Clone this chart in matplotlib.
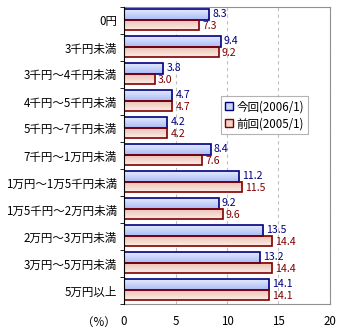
import numpy as np
import matplotlib
matplotlib.use('Agg')
import matplotlib.pyplot as plt
from matplotlib.patches import Rectangle

plt.rcParams['font.family'] = ['Noto Sans CJK JP', 'DejaVu Sans']

categories = ['0円', '3千円未満', '3千円～4千円未満', '4千円～5千円未満', '5千円～7千円未満',
              '7千円～1万円未満', '1万円～1万5千円未満', '1万5千円～2万円未満',
              '2万円～3万円未満', '3万円～5万円未満', '5万円以上']
current = [8.3, 9.4, 3.8, 4.7, 4.2, 8.4, 11.2, 9.2, 13.5, 13.2, 14.1]
previous = [7.3, 9.2, 3.0, 4.7, 4.2, 7.6, 11.5, 9.6, 14.4, 14.4, 14.1]
series_names = ['今回(2006/1)', '前回(2005/1)']
xticks = [0, 5, 10, 15, 20]

blue_edge = '#000080'
red_edge = '#800000'
fs = 8.3
vfs = 7.6

fig = plt.figure(figsize=(3.4, 3.35), dpi=100)
ax = fig.add_axes([124 / 340, 1 - 304 / 335, 206 / 340, 297 / 335])

n = len(categories)
y = np.arange(n)
h = 0.39
shift = -0.03


def grad_bar(ax, x0, width, yc, height, c_top, c_bot, edge):
    # vertical gradient fill, top of bar is smaller y value (inverted axis)
    c_top = np.array(matplotlib.colors.to_rgb(c_top))
    c_bot = np.array(matplotlib.colors.to_rgb(c_bot))
    t = np.linspace(0, 1, 32)[:, None]
    img = (c_top * (1 - t) + c_bot * t)[:, None, :]
    ax.imshow(img, extent=[x0, x0 + width, yc + height / 2, yc - height / 2],
              aspect='auto', interpolation='bilinear', zorder=2)
    ax.add_patch(Rectangle((x0, yc - height / 2), width, height, fill=False,
                           edgecolor=edge, linewidth=1.2, zorder=3))


for i in range(n):
    yb = y[i] + shift - h / 2
    yr = y[i] + shift + h / 2
    grad_bar(ax, 0, current[i], yb, h, '#e4eaff', '#a9bbf6', blue_edge)
    grad_bar(ax, 0, previous[i], yr, h, '#ebbcae', '#fbeee8', red_edge)
    ax.text(current[i] + 0.3, yb - 0.02, f'{current[i]:.1f}', color=blue_edge,
            va='center', ha='left', fontsize=vfs, zorder=4)
    ax.text(previous[i] + 0.3, yr + 0.03, f'{previous[i]:.1f}', color=red_edge,
            va='center', ha='left', fontsize=vfs, zorder=4)

ax.set_xlim(0, 20)
ax.set_ylim(n - 0.5, -0.5)
ax.set_xticks(xticks)
ax.set_xticklabels([str(v) for v in xticks], fontsize=fs)
ax.set_yticks(y)
ax.set_yticklabels(categories, fontsize=fs)
ax.set_yticks(np.arange(n + 1) - 0.5, minor=True)
ax.tick_params(axis='y', which='major', length=0, pad=5)
ax.tick_params(axis='y', which='minor', length=3, color='black', direction='out')
ax.tick_params(axis='x', length=0, pad=8)

ax.grid(axis='x', linestyle=(0, (3, 3)), color='#c0c0c0', linewidth=0.8, zorder=0)
ax.set_axisbelow(True)

for side in ['top', 'right', 'bottom']:
    ax.spines[side].set_color('#909090')
ax.spines['left'].set_color('black')
ax.spines['left'].set_zorder(5)

fig.text(99 / 340, 1 - 322 / 335, '（%）', fontsize=fs, ha='center', va='center')

# legend
handles = [Rectangle((0, 0), 1, 1, facecolor='#c8d4fa', edgecolor=blue_edge, linewidth=1),
           Rectangle((0, 0), 1, 1, facecolor='#f2d2c8', edgecolor=red_edge, linewidth=1)]
leg = ax.legend(handles, series_names, loc='upper left', bbox_to_anchor=(0.47, 0.70),
                fontsize=fs, frameon=True, fancybox=False, handlelength=0.7,
                handleheight=0.7, handletextpad=0.3, borderpad=0.35, labelspacing=0.35,
                borderaxespad=0)
leg.get_frame().set_edgecolor('#a0a0a0')
leg.get_frame().set_linewidth(0.8)

fig.savefig('out.png', dpi=100)
